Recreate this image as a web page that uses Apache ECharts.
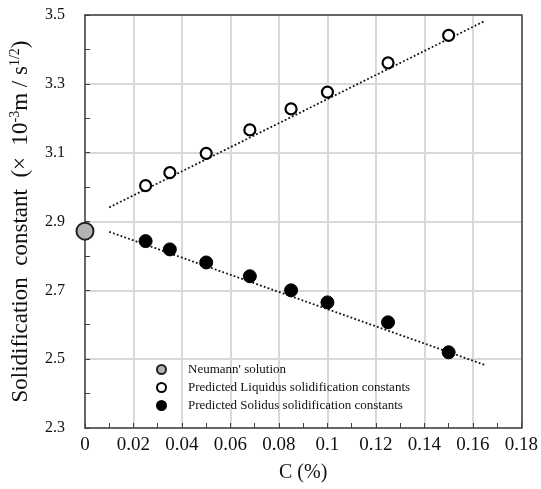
<!DOCTYPE html>
<html>
<head>
<meta charset="utf-8">
<script src="https://cdn.jsdelivr.net/npm/echarts@6/dist/echarts.min.js"></script>
<style>html,body{margin:0;padding:0;background:#fff;}#c{width:541px;height:489px;}</style>
</head>
<body>
<div id="c"></div>
<script>
// Data
const cValues = [0.025, 0.035, 0.05, 0.068, 0.085, 0.1, 0.125, 0.15];
const liquidus = [3.004, 3.042, 3.098, 3.166, 3.227, 3.276, 3.361, 3.441];
const solidus = [2.843, 2.819, 2.781, 2.741, 2.700, 2.665, 2.607, 2.520];
const neumannC = [0];
const neumannK = [2.872];
const liqTrendC = [0.01, 0.165];
const liqTrendK = [2.941, 3.483];
const solTrendC = [0.01, 0.165];
const solTrendK = [2.870, 2.483];
const xTicks = { min: 0, max: 0.18, step: 0.02 };
const yTicks = { min: 2.3, max: 3.5, step: 0.2 };
const legendNames = ["Neumann' solution", 'Predicted Liquidus solidification constants', 'Predicted Solidus solidification constants'];

const zip = (a, b) => a.map((v, i) => [v, b[i]]);
const serif = "'Liberation Serif','Times New Roman',serif";
const axisColor = '#404040';

const chart = echarts.init(document.getElementById('c'));
chart.setOption({
  animation: false,
  backgroundColor: '#fff',
  grid: { left: 85, right: 19, top: 15, bottom: 61, containLabel: false },
  legend: {
    orient: 'vertical', left: 151, top: 358, itemWidth: 9, itemHeight: 9, itemGap: 5,
    icon: 'circle',
    data: legendNames,
    textStyle: { fontFamily: serif, fontSize: 13, color: '#111', padding: [0, 0, 0, 17] }
  },
  xAxis: [{
    type: 'value', min: xTicks.min, max: xTicks.max, interval: xTicks.step,
    name: 'C (%)', nameLocation: 'middle', nameGap: 35,
    nameTextStyle: { fontFamily: serif, fontSize: 20, color: '#111' },
    axisLine: { show: true, onZero: false, lineStyle: { color: axisColor, width: 1.5 } },
    axisTick: { show: true, inside: true, length: 5, lineStyle: { color: axisColor } },
    minorTick: { show: true, splitNumber: 2, length: 5, lineStyle: { color: axisColor } },
    splitLine: { show: true, lineStyle: { color: '#d9d9d9', width: 2, type: 'solid' } },
    axisLabel: { fontFamily: serif, fontSize: 19, color: '#111', margin: 8, formatter: v => String(+v.toFixed(2)) }
  }, {
    type: 'value', position: 'top', min: xTicks.min, max: xTicks.max, interval: xTicks.step,
    axisLine: { show: true, onZero: false, lineStyle: { color: axisColor, width: 1.5 } },
    axisTick: { show: false }, axisLabel: { show: false }, splitLine: { show: false }
  }],
  yAxis: [{
    type: 'value', min: yTicks.min, max: yTicks.max, interval: yTicks.step,
    name: '{t|Solidification  constant  (×  10}{s|-3}{t|m / s}{s|1/2}{t|)}',
    nameLocation: 'middle', nameGap: 51,
    nameTextStyle: {
      fontFamily: serif, color: '#111',
      rich: {
        t: { fontFamily: serif, fontSize: 23, lineHeight: 26, color: '#111' },
        s: { fontFamily: serif, fontSize: 14, verticalAlign: 'top', color: '#111' }
      }
    },
    axisLine: { show: true, onZero: false, lineStyle: { color: axisColor, width: 1.5 } },
    axisTick: { show: true, inside: true, length: 5, lineStyle: { color: axisColor } },
    minorTick: { show: true, splitNumber: 2, length: 5, lineStyle: { color: axisColor } },
    splitLine: { show: true, lineStyle: { color: '#d9d9d9', width: 2, type: 'solid' } },
    axisLabel: { fontFamily: serif, fontSize: 16, color: '#111', margin: 20, formatter: v => v.toFixed(1) }
  }, {
    type: 'value', position: 'right', min: yTicks.min, max: yTicks.max, interval: yTicks.step,
    axisLine: { show: true, onZero: false, lineStyle: { color: axisColor, width: 1.5 } },
    axisTick: { show: false }, axisLabel: { show: false }, splitLine: { show: false }
  }],
  series: [
    {
      name: 'liqTrend', type: 'line', data: zip(liqTrendC, liqTrendK), symbol: 'none', z: 2,
      lineStyle: { color: '#111', width: 1.8, type: [1.8, 2.2] }, silent: true
    },
    {
      name: 'solTrend', type: 'line', data: zip(solTrendC, solTrendK), symbol: 'none', z: 2,
      lineStyle: { color: '#111', width: 1.8, type: [1.8, 2.2] }, silent: true
    },
    {
      name: legendNames[1], type: 'scatter', data: zip(cValues, liquidus), symbolSize: 11, z: 5,
      itemStyle: { color: '#fff', borderColor: '#000', borderWidth: 2.2, opacity: 1 }
    },
    {
      name: legendNames[2], type: 'scatter', data: zip(cValues, solidus), symbolSize: 13, z: 5,
      itemStyle: { color: '#000', borderColor: '#000', borderWidth: 1, opacity: 1 }
    },
    {
      name: legendNames[0], type: 'scatter', data: zip(neumannC, neumannK), symbolSize: 17, z: 6, clip: false,
      itemStyle: { color: '#b3b3b3', borderColor: '#222', borderWidth: 2, opacity: 1 }
    }
  ]
});
</script>
</body>
</html>
